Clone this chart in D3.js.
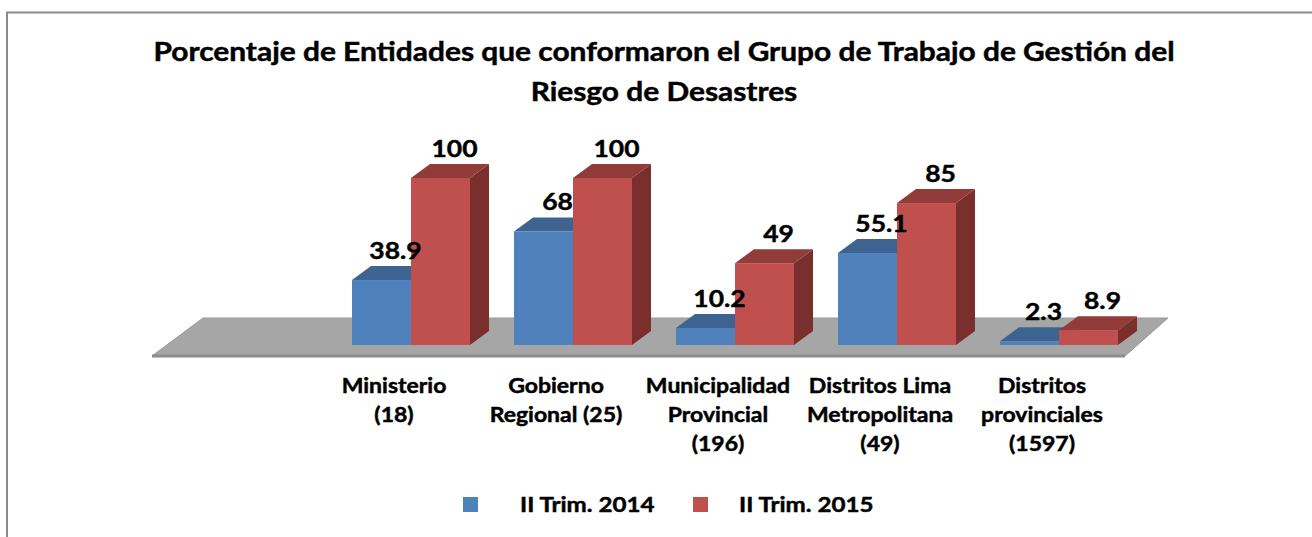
<!DOCTYPE html>
<html>
<head>
<meta charset="utf-8">
<script src="https://cdn.jsdelivr.net/npm/d3@7"></script>
<style>
  body { margin: 0; background: #fff; }
  text { font-family: Lato, "Open Sans", sans-serif; font-weight: bold; fill: #000; stroke: #000; stroke-width: 0.45px; }
</style>
</head>
<body>
<svg id="chart" width="1312" height="537"></svg>
<script>
// chart data
const categories = [
    "Ministerio\n(18)",
    "Gobierno\nRegional (25)",
    "Municipalidad\nProvincial\n(196)",
    "Distritos Lima\nMetropolitana\n(49)",
    "Distritos\nprovinciales\n(1597)"
];
const seriesNames = ["II Trim. 2014", "II Trim. 2015"];
const values2014 = [38.9, 68, 10.2, 55.1, 2.3];
const values2015 = [100, 100, 49, 85, 8.9];
const titleLines = [
    "Porcentaje de Entidades que conformaron el Grupo de Trabajo de Gestión del",
    "Riesgo de Desastres"
];

const colors = [
    {front: "#4F81BD", top: "#3D6491", side: "#36587f"},
    {front: "#C0504D", top: "#923C3A", side: "#7B2F2D"}
];

const svg = d3.select("#chart");
const stretch = 1.15; // text in the picture is a bit wider than tall

// outer border
svg.append("rect")
    .attr("x", 7).attr("y", 12.5)
    .attr("width", 1400).attr("height", 600)
    .attr("fill", "none")
    .attr("stroke", "#8a8a8a")
    .attr("stroke-width", 2);

// title
svg.selectAll(".title")
    .data(titleLines)
    .enter()
    .append("text")
    .attr("class", "title")
    .attr("text-anchor", "middle")
    .attr("font-size", 26)
    .attr("transform", (d, i) => "translate(664," + (61 + i * 40) + ") scale(" + stretch + ",1)")
    .text(d => d);

// scales
const x0 = d3.scaleBand()
    .domain(d3.range(categories.length))
    .range([330, 1140])
    .paddingInner(0.2716)
    .paddingOuter(0.1358);

const x1 = d3.scaleBand()
    .domain(d3.range(seriesNames.length))
    .range([0, x0.bandwidth()]);

const y = d3.scaleLinear().domain([0, 100]).range([345, 178]);

const depth = {dx: 19, dy: 14};

// floor
const floorFront = 356, floorBack = 318;
const fl = x0.range()[0] - 178, fr = x0.range()[1] - 15;
const slant = 43;
svg.append("path")
    .attr("d", `M${fl},${floorFront} L${fr},${floorFront} L${fr + slant},${floorBack} L${fl + 51},${floorBack} Z`)
    .attr("fill", "#a6a6a6")
    .attr("stroke", "#999")
    .attr("stroke-width", 1);
svg.append("line")
    .attr("x1", fl).attr("x2", fr)
    .attr("y1", floorFront).attr("y2", floorFront)
    .attr("stroke", "#8c8c8c").attr("stroke-width", 3);

// bars
const barData = [];
categories.forEach((c, i) => {
    [values2014, values2015].forEach((vals, s) => {
        barData.push({cat: i, s: s, v: vals[i]});
    });
});

const bars = svg.selectAll(".bar")
    .data(barData)
    .enter()
    .append("g")
    .attr("class", "bar");

bars.each(function(d) {
    const g = d3.select(this);
    const xl = x0(d.cat) + x1(d.s);
    const w = x1.bandwidth();
    const yt = y(d.v), yb = y(0);
    const c = colors[d.s];
    // side
    g.append("path")
        .attr("d", `M${xl + w},${yb} L${xl + w + depth.dx},${yb - depth.dy} L${xl + w + depth.dx},${yt - depth.dy} L${xl + w},${yt} Z`)
        .attr("fill", c.side);
    // top
    g.append("path")
        .attr("d", `M${xl},${yt} L${xl + depth.dx},${yt - depth.dy} L${xl + w + depth.dx},${yt - depth.dy} L${xl + w},${yt} Z`)
        .attr("fill", c.top);
    // front
    g.append("rect")
        .attr("x", xl).attr("y", yt)
        .attr("width", w).attr("height", yb - yt)
        .attr("fill", c.front);
});

// value labels
svg.selectAll(".val")
    .data(barData)
    .enter()
    .append("text")
    .attr("class", "val")
    .attr("text-anchor", "middle")
    .attr("font-size", 23)
    .attr("transform", d => {
        const cx = x0(d.cat) + x1(d.s) + x1.bandwidth() / 2 + 14;
        return "translate(" + cx + "," + (y(d.v) - depth.dy - 7) + ") scale(" + stretch + ",1)";
    })
    .text(d => d.v);

// category labels
const catG = svg.selectAll(".cat")
    .data(categories)
    .enter()
    .append("text")
    .attr("class", "cat")
    .attr("text-anchor", "middle")
    .attr("font-size", 20)
    .attr("transform", (d, i) => "translate(" + (x0(i) + x0.bandwidth() / 2 - 17) + ",393) scale(" + stretch + ",1)");

catG.selectAll("tspan")
    .data(d => d.split("\n"))
    .enter()
    .append("tspan")
    .attr("x", 0)
    .attr("y", (d, i) => i * 29)
    .text(d => d);

// legend
const legendX = [463, 693];
const legendTextX = [520, 739];
const legend = svg.selectAll(".leg")
    .data(seriesNames)
    .enter()
    .append("g")
    .attr("class", "leg");

legend.append("rect")
    .attr("x", (d, i) => legendX[i]).attr("y", 497)
    .attr("width", 15).attr("height", 15)
    .attr("fill", (d, i) => colors[i].front);

legend.append("text")
    .attr("font-size", 21)
    .attr("transform", (d, i) => "translate(" + legendTextX[i] + ",512) scale(" + stretch + ",1)")
    .text(d => d);
</script>
</body>
</html>
